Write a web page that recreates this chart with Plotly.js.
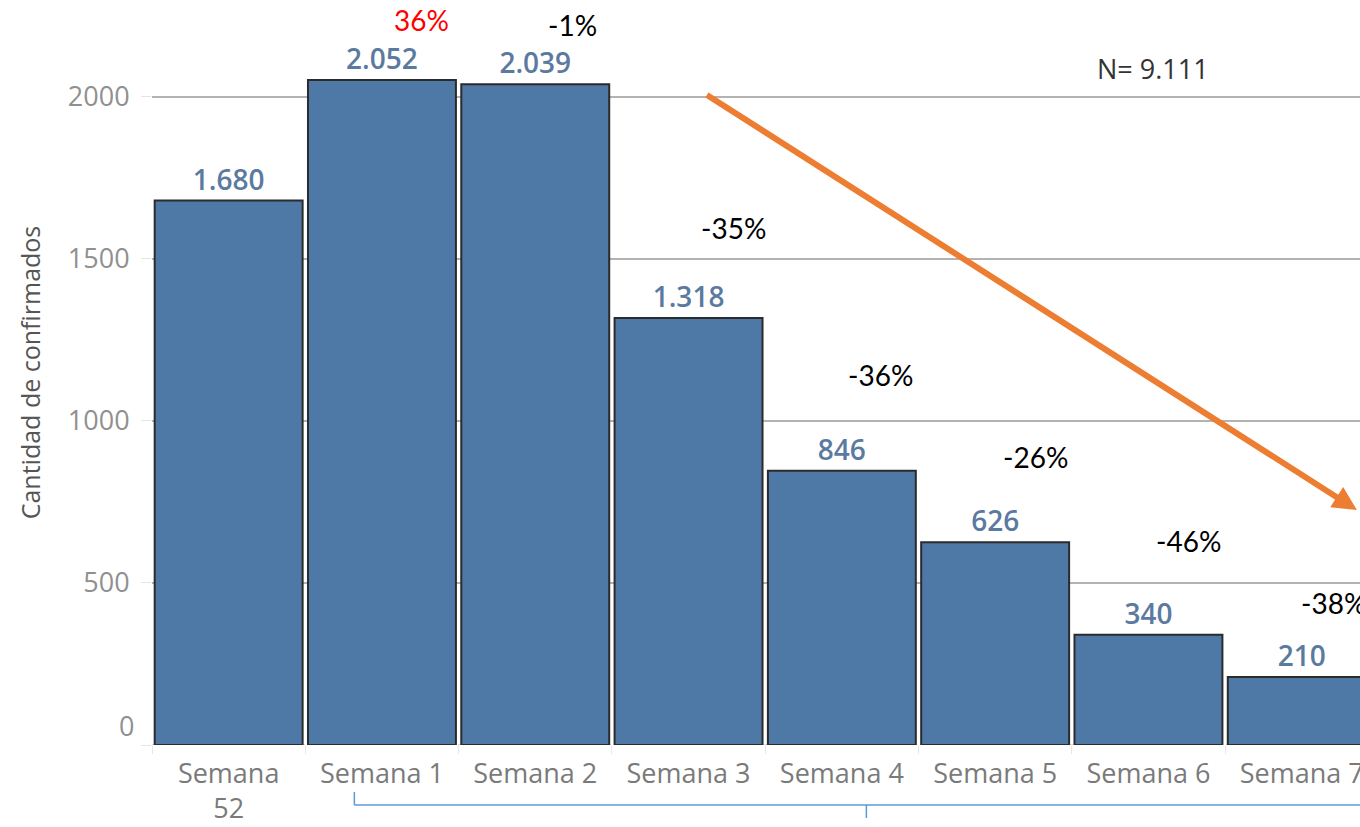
<!DOCTYPE html>
<html>
<head>
<meta charset="utf-8">
<script src="https://cdn.plot.ly/plotly-3.0.1.min.js"></script>
<style>
  html, body { margin: 0; padding: 0; background: #fff; }
  #chart { width: 1360px; height: 827px; }
</style>
</head>
<body>
<div id="chart"></div>
<script>
// Weekly confirmed cases
const weeks = ['Semana<br>52', 'Semana 1', 'Semana 2', 'Semana 3', 'Semana 4', 'Semana 5', 'Semana 6', 'Semana 7'];
const confirmed = [1680, 2052, 2039, 1318, 846, 626, 340, 210];
const yTicks = [0, 500, 1000, 1500, 2000];

// Week-over-week change labels (from Semana 1 on)
const changeLabels = ['36%', '-1%', '-35%', '-36%', '-26%', '-46%', '-38%'];
const totalLabel = 'N= 9.111';

// where each change label sits (category offset, y value)
const changePos = [
    [1.26, 2238], [2.24, 2222], [3.29, 1596], [4.25, 1142],
    [5.26, 889], [6.26, 630], [7.21, 438]
];

const barColor = '#4e79a7';

const data = [{
    x: weeks,
    y: confirmed,
    type: 'bar',
    marker: {
        color: barColor,
        line: { color: '#2b2b2b', width: 2 }
    },
    texttemplate: '%{y:,}',
    textposition: 'outside',
    cliponaxis: false,
    textfont: { family: 'Open Sans', size: 28, color: '#5b7aa0', weight: 600 },
    hoverinfo: 'none'
}];

const annotations = changeLabels.map((t, i) => ({
    x: changePos[i][0],
    y: changePos[i][1],
    xref: 'x', yref: 'y',
    text: t,
    showarrow: false,
    font: { family: 'Lato', size: 28, color: i === 0 ? '#ff0000' : '#000000' }
}));

annotations.push({
    x: 6.03, y: 2089, xref: 'x', yref: 'y',
    text: totalLabel, showarrow: false,
    font: { family: 'Open Sans', size: 27, color: '#333333' }
});

// the "0" tick label sits a little above the baseline
annotations.push({
    x: 0, y: yTicks[0], xref: 'paper', yref: 'y',
    xanchor: 'right', yanchor: 'middle', xshift: -16, yshift: 20,
    text: String(yTicks[0]), showarrow: false,
    font: { family: 'Open Sans', size: 27, color: '#909090' }
});

// orange trend arrow
annotations.push({
    x: 7.36, y: 725, xref: 'x', yref: 'y',
    ax: 3.11, ay: 2009, axref: 'x', ayref: 'y',
    text: '', showarrow: true,
    arrowhead: 2, arrowsize: 0.8, arrowwidth: 6,
    arrowcolor: '#ed7d31'
});

const bracketColor = '#5b9bd5';
const shapes = [
    // dotted baseline
    { type: 'line', xref: 'paper', yref: 'y', x0: 0, x1: 1, y0: 0, y1: 0,
      line: { color: '#cccccc', width: 1.5, dash: 'dot' }, layer: 'below' },
    // bracket under the x labels
    { type: 'line', xref: 'x', yref: 'paper', x0: 0.82, x1: 7.6, y0: -0.0805, y1: -0.0805,
      line: { color: bracketColor, width: 1.5 } },
    { type: 'line', xref: 'x', yref: 'paper', x0: 0.82, x1: 0.82, y0: -0.063, y1: -0.0805,
      line: { color: bracketColor, width: 1.5 } },
    { type: 'line', xref: 'x', yref: 'paper', x0: 4.16, x1: 4.16, y0: -0.0805, y1: -0.098,
      line: { color: bracketColor, width: 1.5 } }
];

const layout = {
    width: 1360,
    height: 827,
    margin: { t: 0, r: 0, b: 82, l: 152 },
    bargap: 0.035,
    separators: ',.',
    showlegend: false,
    plot_bgcolor: '#ffffff',
    paper_bgcolor: '#ffffff',
    font: { family: 'Open Sans' },
    xaxis: {
        type: 'category',
        range: [-0.5, 7.38],
        showgrid: false,
        zeroline: false,
        ticks: 'outside',
        tickson: 'boundaries',
        ticklen: 8,
        tickcolor: '#e8e8e8',
        ticklabelstandoff: 10,
        tickfont: { family: 'Open Sans', size: 27, color: '#7a7a7a' }
    },
    yaxis: {
        range: [0, 2299],
        tickvals: yTicks,
        ticktext: yTicks.map(v => v === 0 ? '' : String(v)),
        showgrid: true,
        gridcolor: '#b3b3b3',
        gridwidth: 1.5,
        zeroline: false,
        ticks: 'outside',
        ticklen: 10,
        tickcolor: '#e3e3e3',
        ticklabelstandoff: 6,
        tickfont: { family: 'Open Sans', size: 27, color: '#909090' },
        title: {
            text: 'Cantidad de confirmados',
            font: { family: 'Open Sans', size: 25, color: '#555555' },
            standoff: 20
        }
    },
    annotations: annotations,
    shapes: shapes
};

Plotly.newPlot('chart', data, layout, { displayModeBar: false, staticPlot: true });
</script>
</body>
</html>
